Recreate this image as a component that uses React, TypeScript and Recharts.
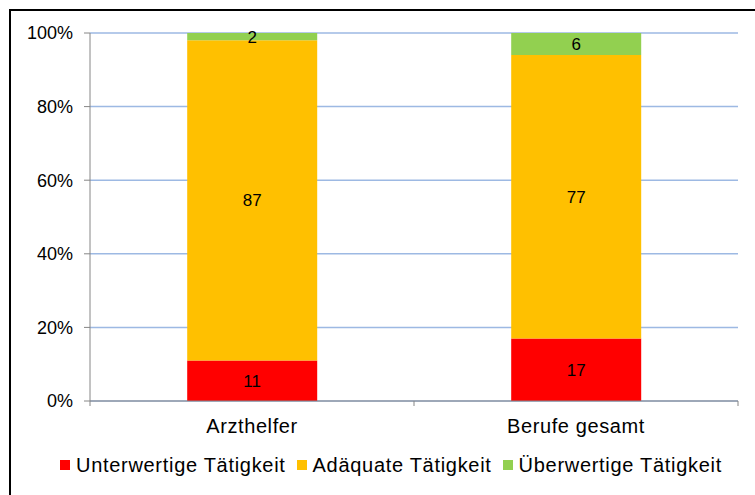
import { Bar, BarChart, CartesianGrid, LabelList, Legend, XAxis, YAxis } from 'recharts';

const categories = ['Arzthelfer', 'Berufe gesamt'];
const unterwertig = [11, 17];
const adaequat = [87, 77];
const ueberwertig = [2, 6];
const yTicks = [0, 20, 40, 60, 80, 100];

const series = [
  { key: 'unter', name: 'Unterwertige Tätigkeit', color: '#FF0000' },
  { key: 'adaequat', name: 'Adäquate Tätigkeit', color: '#FFC000' },
  { key: 'ueber', name: 'Überwertige Tätigkeit', color: '#92D050' },
];

const rows = categories.map((c, i) => ({
  name: c,
  unter: unterwertig[i],
  adaequat: adaequat[i],
  ueber: ueberwertig[i],
}));

const FONT = '"Liberation Sans", Arial, sans-serif';
const AXIS = '#868686';
const HALF_BAND = 162;

function CategoryTick(props: any) {
  const { x, y, payload, index } = props;
  const half = payload?.offset || HALF_BAND;
  return (
    <g>
      <line x1={x - half} y1={y} x2={x - half} y2={y + 5} stroke={AXIS} />
      {index === categories.length - 1 ? (
        <line x1={x + half} y1={y} x2={x + half} y2={y + 5} stroke={AXIS} />
      ) : null}
      <text
        x={x}
        y={y + 32}
        textAnchor="middle"
        fill="#000"
        style={{ fontFamily: FONT, fontSize: 20, letterSpacing: 0.6 }}
      >
        {payload.value}
      </text>
    </g>
  );
}

function LegendContent() {
  return (
    <div
      style={{
        height: 30,
        display: 'flex',
        alignItems: 'center',
        fontFamily: FONT,
        fontSize: 20,
        letterSpacing: 0.7,
        color: '#000',
        whiteSpace: 'nowrap',
      }}
    >
      {series.map((s) => (
        <div key={s.key} style={{ display: 'flex', alignItems: 'center', marginRight: 11 }}>
          <span
            style={{ width: 10, height: 10, background: s.color, display: 'inline-block', marginRight: 6 }}
          />
          <span>{s.name}</span>
        </div>
      ))}
    </div>
  );
}

export default function App() {
  return (
    <div
      style={{
        position: 'absolute',
        left: 0,
        top: 0,
        width: 755,
        height: 495,
        background: '#fff',
        overflow: 'hidden',
      }}
    >
      <div
        style={{
          position: 'absolute',
          left: 9,
          top: 9,
          width: 800,
          height: 600,
          borderLeft: '2px solid #000',
          borderTop: '2px solid #000',
        }}
      />
      <BarChart
        width={755}
        height={495}
        data={rows}
        margin={{ top: 33, right: 17, left: 0, bottom: 24 }}
        barCategoryGap="30%"
        style={{ position: 'absolute', left: 0, top: 0 }}
      >
        <CartesianGrid vertical={false} stroke="#9DB9E3" strokeWidth={1.5} />
        <XAxis
          dataKey="name"
          height={40}
          axisLine={{ stroke: AXIS }}
          tickLine={false}
          tickSize={0}
          tickMargin={0}
          tick={<CategoryTick />}
          interval={0}
        />
        <YAxis
          type="number"
          domain={[0, 100]}
          ticks={yTicks}
          width={90}
          tickFormatter={(v) => `${v}%`}
          tickSize={6}
          tickMargin={11}
          axisLine={{ stroke: AXIS }}
          tickLine={{ stroke: AXIS }}
          tick={{ fill: '#000', fontSize: 18, fontFamily: FONT }}
        />
        <Legend
          verticalAlign="bottom"
          content={<LegendContent />}
          wrapperStyle={{ left: 60, top: 450, bottom: 'auto', width: 700 }}
        />
        {series.map((s) => (
          <Bar key={s.key} dataKey={s.key} name={s.name} stackId="a" fill={s.color} isAnimationActive={false}>
            <LabelList
              dataKey={s.key}
              position="center"
              fill="#000"
              style={{ fontFamily: FONT, fontSize: 17 }}
            />
          </Bar>
        ))}
      </BarChart>
    </div>
  );
}
